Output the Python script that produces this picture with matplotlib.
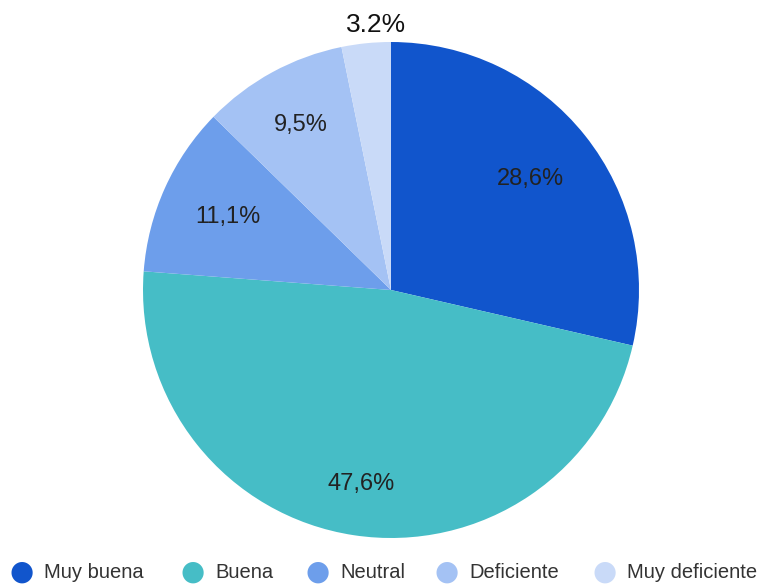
import numpy as np
import matplotlib.pyplot as plt

categories = ["Muy buena", "Buena", "Neutral", "Deficiente", "Muy deficiente"]
values = [28.6, 47.6, 11.1, 9.5, 3.2]
labels = ["28,6%", "47,6%", "11,1%", "9,5%", "3.2%"]
colors = ["#1155cc", "#46bdc6", "#6d9eeb", "#a4c2f4", "#c9daf8"]

plt.rcParams['font.family'] = ['Liberation Sans', 'DejaVu Sans']

fig = plt.figure(figsize=(7.63, 5.85), dpi=100)
W, H = 763, 585
cx, cy, r = 391, 290, 248
ax = fig.add_axes([(cx - r) / W, (H - cy - r) / H, 2 * r / W, 2 * r / H])

wedges, _ = ax.pie(values, colors=colors, startangle=90, counterclock=False,
                   wedgeprops=dict(linewidth=0))
ax.set_xlim(-1, 1)
ax.set_ylim(-1, 1)
ax.set_aspect('equal')

# label distance from centre and small angle tweak per slice
dists = [0.72, 0.79, 0.72, 0.76, 1.07]
shifts = [0, 0, 0, 0, -2.6]
for w, lab, d, s in zip(wedges, labels, dists, shifts):
    ang = np.deg2rad((w.theta1 + w.theta2) / 2 + s)
    x, y = d * np.cos(ang), d * np.sin(ang)
    if lab == "3.2%":
        ax.text(x, y, lab, ha='center', va='center', fontsize=19, color='#111111')
    else:
        ax.text(x, y, lab, ha='center', va='center', fontsize=17, color='#222222')

# legend along the bottom, drawn by hand
leg_x = [22, 193, 318, 447, 605]
leg_y = 1 - 572 / H
for xx, c, name in zip(leg_x, colors, categories):
    fig.text(xx / W, leg_y, "\u25cf", ha='center', va='center', color=c,
             fontsize=20, family='DejaVu Sans')
    fig.text((xx + 22) / W, leg_y, name, ha='left', va='center',
             fontsize=14.5, color='#333333')

fig.savefig("out.png", dpi=100)
